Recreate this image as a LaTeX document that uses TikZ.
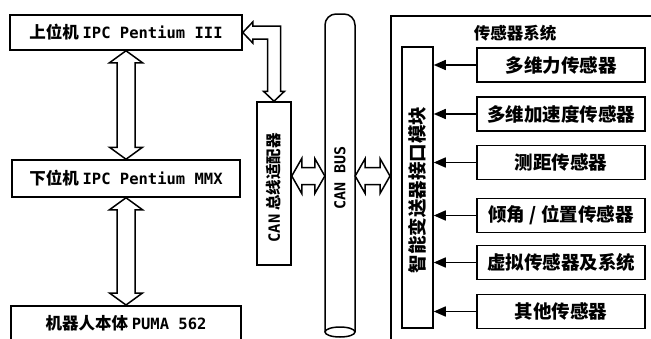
\documentclass[tikz,border=0pt]{standalone}
\usepackage{fontspec}
\setmainfont{Noto Sans CJK SC}
\newfontfamily\lat{DejaVu Sans Mono}
\newcommand\latsm{\lat\bfseries\fontsize{15.5}{15.5}\selectfont}
\usetikzlibrary{arrows.meta,calc}
\newcommand\vdarrow[2]{%
  \draw[hollow] let \p1=#1, \p2=#2 in
    (\x1,\y1) -- (\x1+16.5pt,\y1-12pt) -- (\x1+9pt,\y1-12pt) -- (\x1+9pt,\y2+12pt)
    -- (\x1+16.5pt,\y2+12pt) -- (\x1,\y2) -- (\x1-16.5pt,\y2+12pt) -- (\x1-9pt,\y2+12pt)
    -- (\x1-9pt,\y1-12pt) -- (\x1-16.5pt,\y1-12pt) -- cycle;}
\newcommand\hdarrow[2]{%
  \draw[hollow] let \p1=#1, \p2=#2 in
    (\x1,\y1) -- (\x1+10pt,\y1+17.5pt) -- (\x1+10pt,\y1+8.5pt) -- (\x2-10pt,\y1+8.5pt)
    -- (\x2-10pt,\y1+17.5pt) -- (\x2,\y1) -- (\x2-10pt,\y1-17.5pt) -- (\x2-10pt,\y1-8.5pt)
    -- (\x1+10pt,\y1-8.5pt) -- (\x1+10pt,\y1-17.5pt) -- cycle;}
\begin{document}
\begin{tikzpicture}[x=1pt,y=-1pt,
  box/.style={draw, line width=1.5pt, inner sep=0pt},
  lbl/.style={font=\bfseries\fontsize{16.5}{16.5}\selectfont},
  sens/.style={box, minimum width=168pt, minimum height=34pt, font=\bfseries\fontsize{18.5}{18.5}\selectfont},
  hollow/.style={draw, line width=1.5pt, fill=white, line join=miter},
  feed/.style={line width=1.5pt, -{Triangle[length=12pt,width=10pt]}}
]
\useasboundingbox (0,0) rectangle (651,338);
\clip (0,0) rectangle (651,338);
% left column
\node[box, minimum width=232pt, minimum height=35pt, lbl] (top) at (126,32.5) {上位机 {\latsm IPC Pentium III}};
\node[box, minimum width=228pt, minimum height=37pt, lbl] (mid) at (126,178.5) {下位机 {\latsm IPC Pentium MMX}};
\node[box, minimum width=230pt, minimum height=55pt, anchor=north] (bot) at (126,305) {};
\node[lbl] (botlbl) at (126,323) {机器人本体 {\latsm PUMA 562}};
\vdarrow{(top.south)}{(mid.north)}
\vdarrow{(mid.south)}{(bot.north)}
% CAN adapter
\node[box, minimum width=34pt, minimum height=163pt] (adp) at (274,183.5) {};
\node[rotate=90, font=\bfseries\fontsize{15.5}{15.5}\selectfont] (adplbl) at (274,188) {{\lat\bfseries CAN} 总线适配器};
% elbow arrow
\draw[hollow] let \p1=(top.east), \p2=(adp.north) in
  (\x1,\y1) -- (\x1+10pt,\y1+10.5pt) -- (\x1+10pt,\y1+6.5pt) -- (\x2+6.5pt,\y1+6.5pt)
  -- (\x2+6.5pt,\y2+10pt) -- (\x2+10.5pt,\y2+10pt) -- (\x2,\y2) -- (\x2-10.5pt,\y2+10pt)
  -- (\x2-6.5pt,\y2+10pt) -- (\x2-6.5pt,\y1-6.5pt) -- (\x1+10pt,\y1-6.5pt)
  -- (\x1+10pt,\y1-10.5pt) -- cycle;
% CAN bus cylinder
\draw[line width=1.5pt, rounded corners=11pt] (325,332) -- (325,14) -- (355,14) -- (355,332);
\draw[line width=1.5pt, fill=white] (340,332) ellipse [x radius=15pt, y radius=5pt];
\node[minimum width=30pt, minimum height=318pt, inner sep=0pt] (bus) at (340,173) {};
\node[rotate=90, font=\lat\bfseries\fontsize{15}{15}\selectfont] (buslbl) at (340,178) {CAN BUS};
% sensor system
\node[box, minimum width=270pt, minimum height=340pt, anchor=north west] (sys) at (390,15) {};
\node[font=\bfseries\fontsize{16.5}{16.5}\selectfont] (title) at (515,33) {传感器系统};
\node[box, minimum width=31pt, minimum height=281pt] (mod) at (417.5,187.5) {};
\node[rotate=90, font=\bfseries\fontsize{18.5}{18.5}\selectfont] (modlbl) at (417.5,190) {智能变送器接口模块};
\coordinate (lvl) at (0,176);
\hdarrow{(adp.east |- lvl)}{(bus.west |- lvl)}
\hdarrow{(bus.east |- lvl)}{(sys.west |- lvl)}
\foreach \n/\yy/\t in {s1/65/多维力传感器, s2/114/多维加速度传感器, s3/162.5/测距传感器,
                      s4/215.5/{倾角 / 位置传感器}, s5/262.5/虚拟传感器及系统, s6/311.5/其他传感器}{
  \node[sens] (\n) at (561,\yy) {\t};
  \draw[feed] (\n.west) -- (mod.east |- \n.west);
}
\end{tikzpicture}
\end{document}
